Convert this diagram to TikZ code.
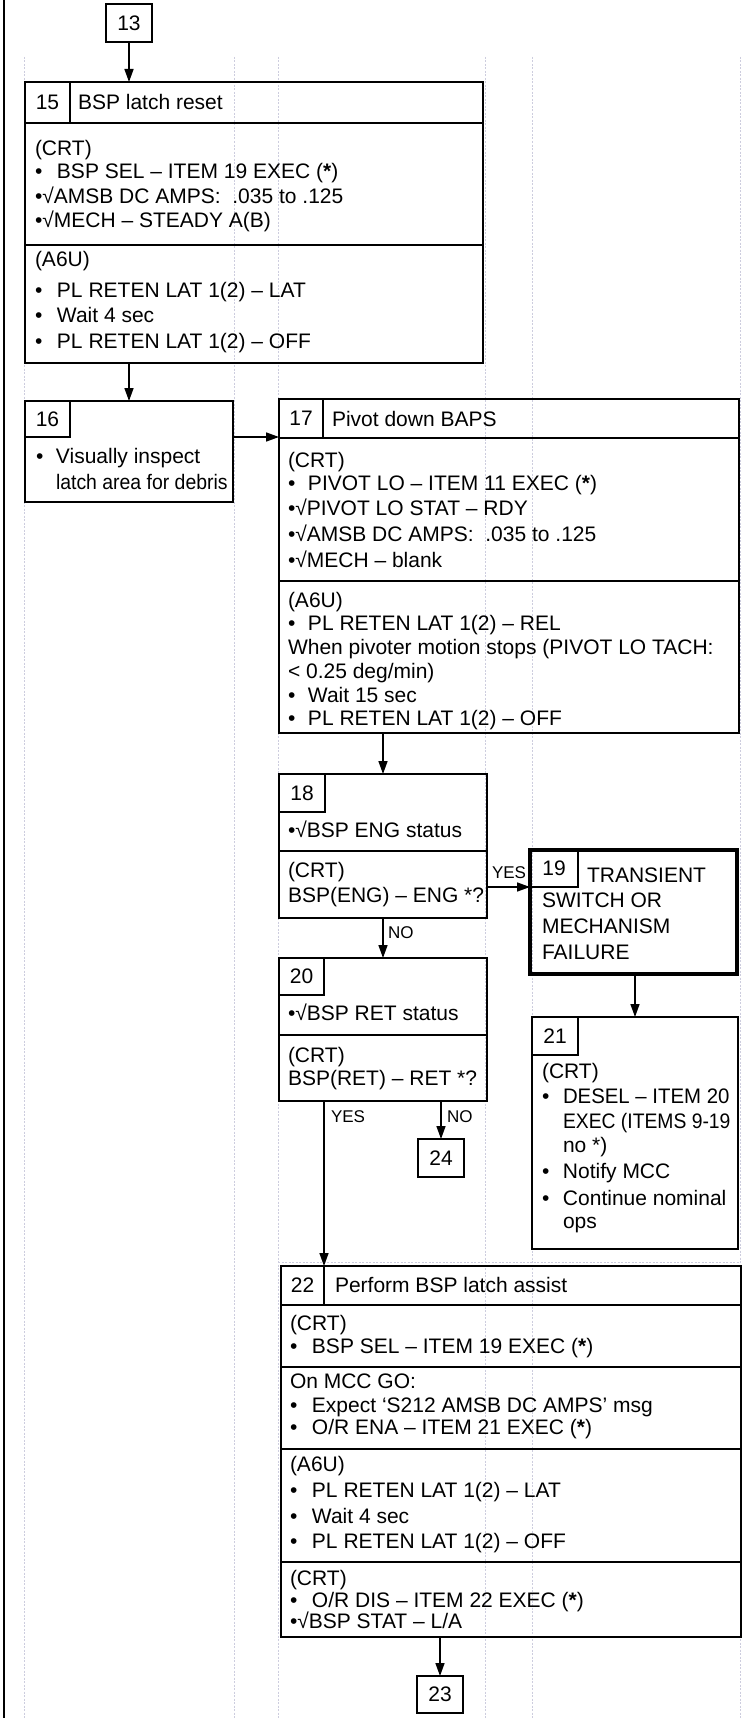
\documentclass[tikz,border=0pt]{standalone}
\usepackage{fontspec}
\usepackage{graphicx}
\setmainfont{Liberation Sans}
\usetikzlibrary{arrows.meta}
\definecolor{guidec}{RGB}{205,205,222}
\newcommand\bitem[1][22pt]{\makebox[#1][l]{•}}
\begin{document}
\begin{tikzpicture}[x=1pt,y=-1pt,font=\fontsize{21}{25}\selectfont]
\tikzset{
 guide/.style={draw=guidec, line width=0.8pt, dash pattern=on 2pt off 1.5pt},
 box/.style={draw, line width=2.2pt, anchor=north west, inner sep=0pt, outer sep=0pt},
 thickbox/.style={draw, line width=4.5pt, anchor=north west, inner sep=0pt, outer sep=0pt},
 numcell/.style={draw, line width=1.6pt, anchor=north west, inner sep=0pt, outer sep=0pt},
 refbox/.style={draw, line width=2pt, anchor=north west, inner sep=0pt, outer sep=0pt},
 sepline/.style={line width=1.7pt},
 tx/.style={anchor=base west, inner sep=0pt, outer sep=0pt},
 lbl/.style={anchor=base west, inner sep=0pt, outer sep=0pt, font=\fontsize{17}{20}\selectfont},
 conn/.style={line width=1.6pt, -{Triangle[length=13pt,width=9pt]}}
}
\path[use as bounding box, fill=white] (0,0) rectangle (744,1718);
% faint guide lines
\foreach \gx in {24,234,278,485,532,740}{\draw[guide] (\gx,57) -- (\gx,1718);}
\draw[guide] (278,1262) -- (740,1262);
% left border
\draw[line width=2.5pt] (4,0) -- (4,1718);

% box 13
\node[refbox, minimum width=46pt, minimum height=38pt] (b13) at (106,4) {13};

% box 15
\node[box, minimum width=458pt, minimum height=281pt] (b15) at (25,82) {};
\node[numcell, minimum width=45pt, minimum height=41pt] (n15) at (25,82) {15};
\draw[sepline] (n15.south west) -- (n15.south west -| b15.east);
\draw[sepline] (b15.west |- 0,245) -- (b15.east |- 0,245);
\node[tx] (t15h) at (78,110) {BSP latch reset};
\node[tx] (t15a) at (35,155) {(CRT)};
\node[tx] (t15b) at (35,178) {\bitem BSP SEL – ITEM 19 EXEC (\textbf{*})};
\node[tx] (t15c) at (35,203) {•√AMSB DC AMPS:\ \ .035 to .125};
\node[tx] (t15d) at (35,227) {•√MECH – STEADY A(B)};
\node[tx] (t15e) at (35,266) {(A6U)};
\node[tx] (t15f) at (35,297) {\bitem PL RETEN LAT 1(2) – LAT};
\node[tx] (t15g) at (35,322) {\bitem Wait 4 sec};
\node[tx] (t15i) at (35,348) {\bitem PL RETEN LAT 1(2) – OFF};

% box 16
\node[box, minimum width=208pt, minimum height=101pt] (b16) at (25,401) {};
\node[numcell, minimum width=45pt, minimum height=36pt] (n16) at (25,401) {16};
\node[tx] (t16a) at (36,463) {\bitem[20pt]Visually inspect};
\node[tx] (t16b) at (56,489) {\scalebox{0.925}[1]{latch area for debris}};

% box 17
\node[box, minimum width=460pt, minimum height=334pt] (b17) at (279,399) {};
\node[numcell, minimum width=44pt, minimum height=39pt] (n17) at (279,399) {17};
\draw[sepline] (n17.south west) -- (n17.south west -| b17.east);
\draw[sepline] (b17.west |- 0,581) -- (b17.east |- 0,581);
\node[tx] (t17h) at (332,426) {Pivot down BAPS};
\node[tx] (t17a) at (288,467) {(CRT)};
\node[tx] (t17b) at (288,490) {\bitem[20pt]PIVOT LO – ITEM 11 EXEC (\textbf{*})};
\node[tx] (t17c) at (288,515) {•√PIVOT LO STAT – RDY};
\node[tx] (t17d) at (288,541) {•√AMSB DC AMPS:\ \ .035 to .125};
\node[tx] (t17e) at (288,567) {•√MECH – blank};
\node[tx] (t17f) at (288,607) {(A6U)};
\node[tx] (t17g) at (288,630) {\bitem[20pt]PL RETEN LAT 1(2) – REL};
\node[tx] (t17i) at (288,654) {When pivoter motion stops (PIVOT LO TACH:};
\node[tx] (t17j) at (288,678) {< 0.25 deg/min)};
\node[tx] (t17k) at (288,702) {\bitem[20pt]Wait 15 sec};
\node[tx] (t17l) at (288,725) {\bitem[20pt]PL RETEN LAT 1(2) – OFF};

% box 18
\node[box, minimum width=208pt, minimum height=144pt] (b18) at (279,774) {};
\node[numcell, minimum width=46pt, minimum height=38pt] (n18) at (279,774) {18};
\draw[sepline] (b18.west |- 0,851) -- (b18.east |- 0,851);
\node[tx] (t18a) at (288,837) {•√BSP ENG status};
\node[tx] (t18b) at (288,877) {(CRT)};
\node[tx] (t18c) at (288,902) {BSP(ENG) – ENG *?};

% box 19
\node[thickbox, minimum width=207pt, minimum height=124pt] (b19) at (530,850) {};
\node[numcell, minimum width=48pt, minimum height=37pt] (n19) at (530,850) {19};
\node[tx] (t19a) at (587,882) {TRANSIENT};
\node[tx] (t19b) at (542,907) {SWITCH OR};
\node[tx] (t19c) at (542,933) {MECHANISM};
\node[tx] (t19d) at (542,959) {FAILURE};

% box 20
\node[box, minimum width=208pt, minimum height=143pt] (b20) at (279,958) {};
\node[numcell, minimum width=45pt, minimum height=37pt] (n20) at (279,958) {20};
\draw[sepline] (b20.west |- 0,1035) -- (b20.east |- 0,1035);
\node[tx] (t20a) at (288,1020) {•√BSP RET status};
\node[tx] (t20b) at (288,1062) {(CRT)};
\node[tx] (t20c) at (288,1085) {BSP(RET) – RET *?};

% box 21
\node[box, minimum width=206pt, minimum height=232pt] (b21) at (532,1017) {};
\node[numcell, minimum width=46pt, minimum height=38pt] (n21) at (532,1017) {21};
\node[tx] (t21a) at (542,1078) {(CRT)};
\node[tx] (t21b) at (542,1103) {\bitem[21pt]\scalebox{0.97}[1]{DESEL – ITEM 20}};
\node[tx] (t21c) at (563,1128) {\scalebox{0.92}[1]{EXEC (ITEMS 9-19}};
\node[tx] (t21d) at (563,1152) {no *)};
\node[tx] (t21e) at (542,1178) {\bitem[21pt]Notify MCC};
\node[tx] (t21f) at (542,1205) {\bitem[21pt]Continue nominal};
\node[tx] (t21g) at (563,1228) {ops};

% box 24
\node[refbox, minimum width=46pt, minimum height=38pt] (b24) at (418,1139) {24};

% box 22
\node[box, minimum width=460pt, minimum height=371pt] (b22) at (281,1266) {};
\node[numcell, minimum width=43pt, minimum height=39pt] (n22) at (281,1266) {22};
\draw[sepline] (n22.south west) -- (n22.south west -| b22.east);
\draw[sepline] (b22.west |- 0,1367) -- (b22.east |- 0,1367);
\draw[sepline] (b22.west |- 0,1449) -- (b22.east |- 0,1449);
\draw[sepline] (b22.west |- 0,1562) -- (b22.east |- 0,1562);
\node[tx] (t22h) at (335,1292) {Perform BSP latch assist};
\node[tx] (t22a) at (290,1330) {(CRT)};
\node[tx] (t22b) at (290,1353) {\bitem BSP SEL – ITEM 19 EXEC (\textbf{*})};
\node[tx] (t22c) at (290,1388) {On MCC GO:};
\node[tx] (t22d) at (290,1412) {\bitem Expect ‘S212 AMSB DC AMPS’ msg};
\node[tx] (t22e) at (290,1434) {\bitem O/R ENA – ITEM 21 EXEC (\textbf{*})};
\node[tx] (t22f) at (290,1471) {(A6U)};
\node[tx] (t22g) at (290,1497) {\bitem PL RETEN LAT 1(2) – LAT};
\node[tx] (t22i) at (290,1523) {\bitem Wait 4 sec};
\node[tx] (t22j) at (290,1548) {\bitem PL RETEN LAT 1(2) – OFF};
\node[tx] (t22k) at (290,1585) {(CRT)};
\node[tx] (t22l) at (290,1607) {\bitem O/R DIS – ITEM 22 EXEC (\textbf{*})};
\node[tx] (t22m) at (290,1628) {•√BSP STAT – L/A};

% box 23
\node[refbox, minimum width=46pt, minimum height=37pt] (b23) at (417,1676) {23};

% connectors
\draw[conn] (b13.south) -- (b13.south |- b15.north);
\draw[conn] (b16.north |- b15.south) -- (b16.north);
\draw[conn] (n16.south -| b16.east) -- (n16.south -| b17.west);
\draw[conn] (b18.north |- b17.south) -- (b18.north);
\draw[conn] (n19.south -| b18.east) -- (n19.south -| b19.west);
\draw[conn] (b20.north |- b18.south) -- (b20.north);
\draw[conn] (b21.north |- b19.south) -- (b21.north);
\draw[conn] (b24.north |- b20.south) -- (b24.north);
\draw[conn] (n22.north east |- b20.south) -- (n22.north east);
\draw[line width=1.6pt] (n22.north east) -- (n22.south east);
\draw[conn] (b23.north |- b22.south) -- (b23.north);

% branch labels
\node[lbl] (l1) at (492,878) {YES};
\node[lbl] (l2) at (388,938) {NO};
\node[lbl] (l3) at (331,1122) {YES};
\node[lbl] (l4) at (447,1122) {NO};
\end{tikzpicture}
\end{document}
